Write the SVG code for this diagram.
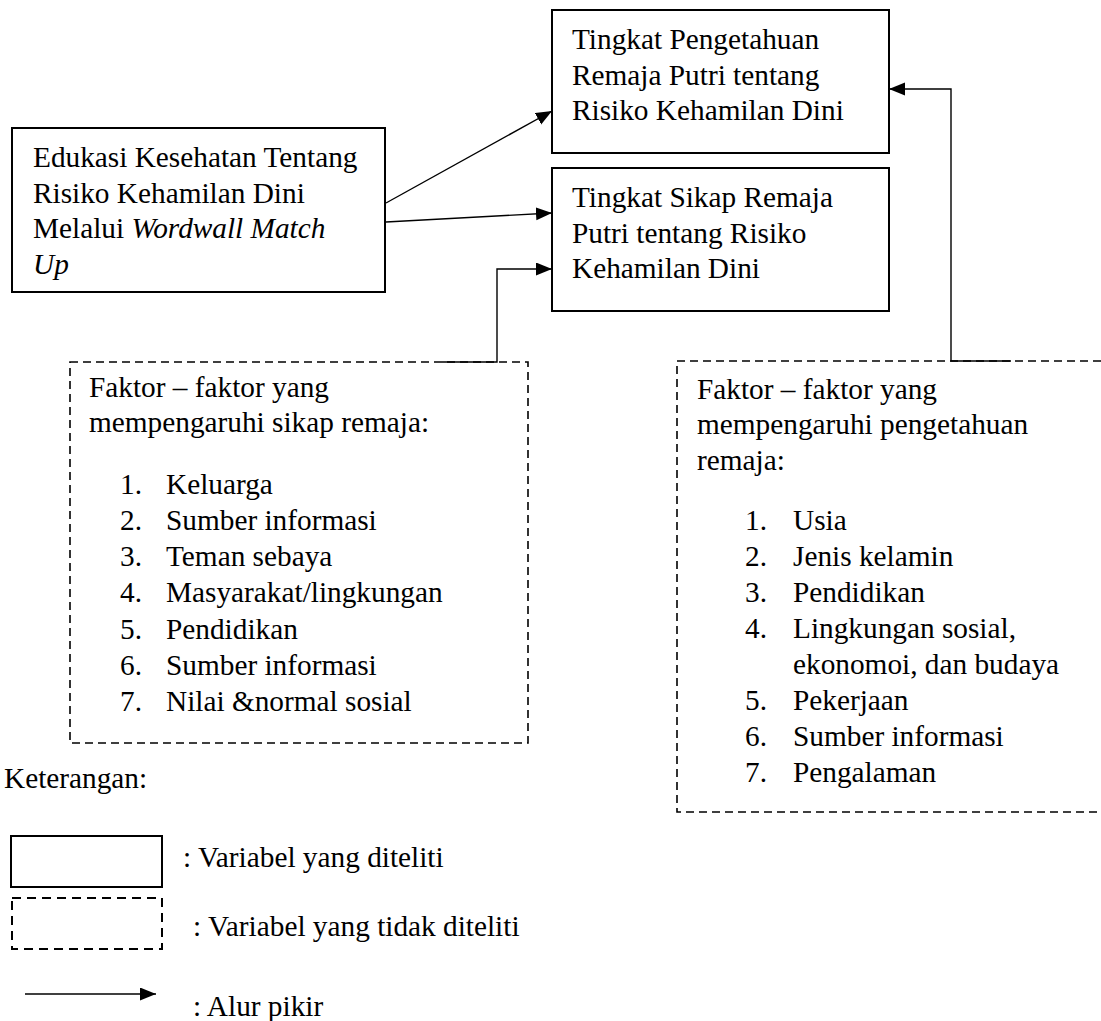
<svg xmlns="http://www.w3.org/2000/svg" width="1101" height="1021" viewBox="0 0 1101 1021">
<style>
text{font-family:"Liberation Serif","Times New Roman",serif;font-size:29.3px;fill:#000}
.box{fill:#fff;stroke:#000;stroke-width:2}
.dash{fill:none;stroke:#000;stroke-width:1.6;stroke-dasharray:8 5}
.ldash{fill:none;stroke:#000;stroke-width:2;stroke-dasharray:9 6}
.con{fill:none;stroke:#000;stroke-width:1.4}
.it{font-style:italic}
</style>
<defs>
<marker id="ah" markerUnits="userSpaceOnUse" markerWidth="17" markerHeight="14" refX="16" refY="6.5" orient="auto">
<path d="M0,0 L16,6.5 L0,13 z" fill="#000"/>
</marker>
</defs>
<rect width="1101" height="1021" fill="#fff"/>

<g id="node-pengetahuan">
<rect class="box" x="552" y="10" width="337" height="143"/>
<text x="572" y="49">Tingkat Pengetahuan</text>
<text x="572" y="85">Remaja Putri tentang</text>
<text x="572" y="120">Risiko Kehamilan Dini</text>
</g>

<g id="node-sikap">
<rect class="box" x="552" y="168" width="337" height="143"/>
<text x="572" y="207">Tingkat Sikap Remaja</text>
<text x="572" y="243">Putri tentang Risiko</text>
<text x="572" y="278">Kehamilan Dini</text>
</g>

<g id="node-edukasi">
<rect class="box" x="12" y="128" width="373" height="164"/>
<text x="33" y="167">Edukasi Kesehatan Tentang</text>
<text x="33" y="203">Risiko Kehamilan Dini</text>
<text x="33" y="238">Melalui <tspan class="it">Wordwall Match</tspan></text>
<text x="33" y="274" class="it">Up</text>
</g>

<g id="node-faktor-sikap">
<rect class="dash" x="70" y="362" width="458" height="381"/>
<text x="89" y="397">Faktor – faktor yang</text>
<text x="89" y="432">mempengaruhi sikap remaja:</text>
<text x="120" y="493.5">1.</text><text x="166" y="493.5">Keluarga</text>
<text x="120" y="529.7">2.</text><text x="166" y="529.7">Sumber informasi</text>
<text x="120" y="566">3.</text><text x="166" y="566">Teman sebaya</text>
<text x="120" y="602">4.</text><text x="166" y="602">Masyarakat/lingkungan</text>
<text x="120" y="638.5">5.</text><text x="166" y="638.5">Pendidikan</text>
<text x="120" y="674.7">6.</text><text x="166" y="674.7">Sumber informasi</text>
<text x="120" y="711">7.</text><text x="166" y="711">Nilai &amp;normal sosial</text>
</g>

<g id="node-faktor-pengetahuan">
<path class="dash" d="M1101,361 H677 V812 H1101"/>
<text x="697" y="399">Faktor – faktor yang</text>
<text x="697" y="434">mempengaruhi pengetahuan</text>
<text x="697" y="470">remaja:</text>
<text x="745" y="530">1.</text><text x="793" y="530">Usia</text>
<text x="745" y="566">2.</text><text x="793" y="566">Jenis kelamin</text>
<text x="745" y="602">3.</text><text x="793" y="602">Pendidikan</text>
<text x="745" y="638">4.</text><text x="793" y="638">Lingkungan sosial,</text>
<text x="793" y="674">ekonomoi, dan budaya</text>
<text x="745" y="710">5.</text><text x="793" y="710">Pekerjaan</text>
<text x="745" y="746">6.</text><text x="793" y="746">Sumber informasi</text>
<text x="745" y="782">7.</text><text x="793" y="782">Pengalaman</text>
</g>

<g id="connectors">
<line class="con" x1="386" y1="203" x2="552" y2="111" marker-end="url(#ah)"/>
<line class="con" x1="386" y1="222" x2="552" y2="213" marker-end="url(#ah)"/>
<polyline class="con" points="442,362 497,362 497,269 552,269" marker-end="url(#ah)"/>
<polyline class="con" points="1011,361 951,361 951,89 889,89" marker-end="url(#ah)"/>
</g>

<g id="legend">
<text x="4" y="788">Keterangan:</text>
<rect class="box" x="11" y="836" width="151" height="51"/>
<text x="183" y="867">: Variabel yang diteliti</text>
<rect class="ldash" x="12" y="898" width="150" height="51"/>
<text x="193" y="936">: Variabel yang tidak diteliti</text>
<line class="con" x1="25" y1="994" x2="156" y2="994" marker-end="url(#ah)"/>
<text x="193" y="1016">: Alur pikir</text>
</g>
</svg>
